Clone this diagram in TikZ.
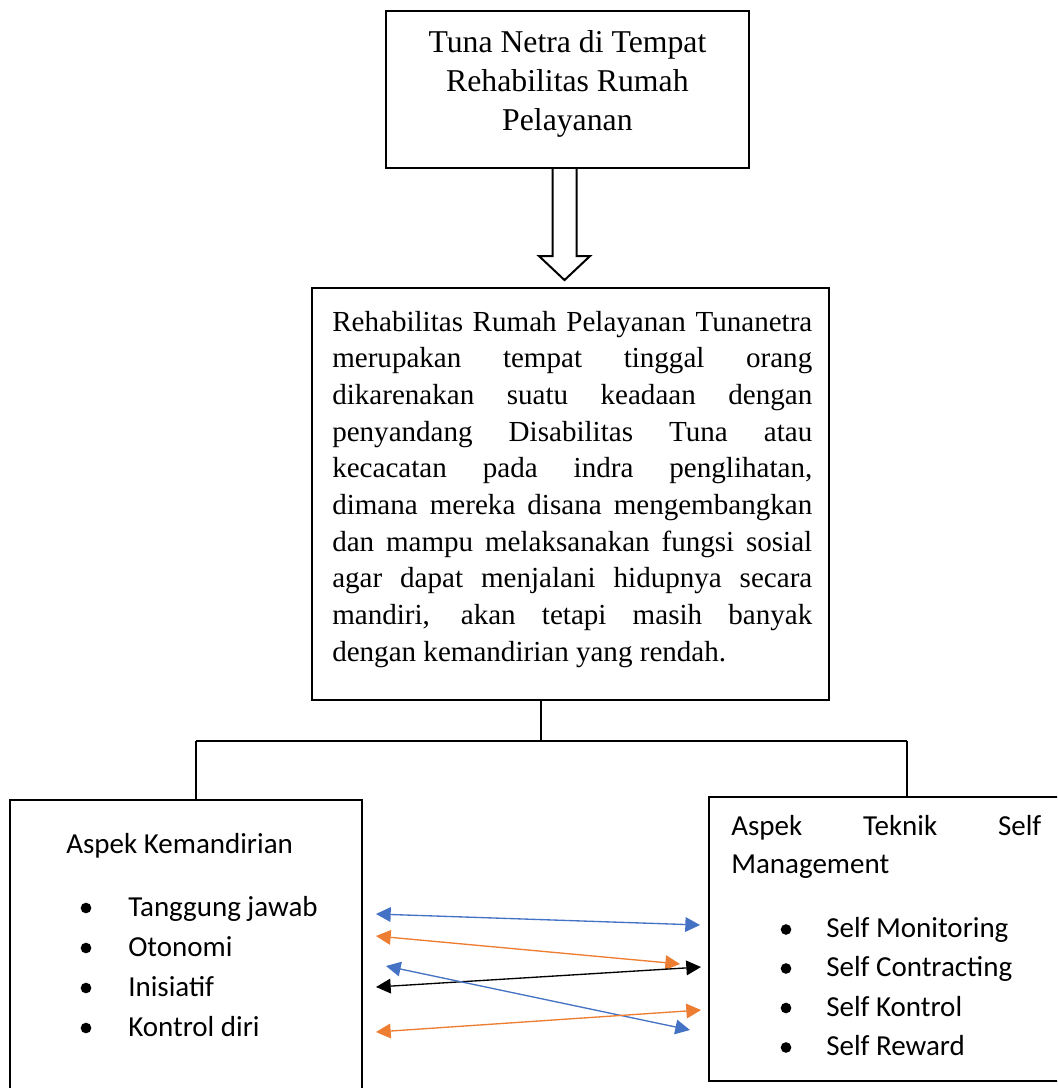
\documentclass[tikz,border=0pt]{standalone}
\usepackage{fontspec}
\setmainfont{Liberation Serif}
\newfontfamily\calibri{Carlito}
\usetikzlibrary{arrows.meta,calc}
\definecolor{wblue}{HTML}{4472C4}
\definecolor{worange}{HTML}{ED7D31}
\tikzset{
  box/.style={draw, line width=1.6pt, inner sep=0pt},
  link/.style={line width=0.8pt},
  rel/.style={line width=1pt, {Triangle[length=11pt,width=11pt]}-{Triangle[length=11pt,width=11pt]}},
  item/.style={anchor=base west, inner sep=0pt, font=\calibri\fontsize{21.75}{26}\selectfont},
  dot/.style={circle, fill, draw=none, inner sep=0pt, minimum size=8pt},
}
\newcommand\jl[1]{{\spaceskip=0pt\xspaceskip=0pt\makebox[360pt][s]{#1}}}
\begin{document}
\begin{tikzpicture}[x=0.75pt,y=-0.75pt]
\useasboundingbox (0,0) rectangle (1057,1088);
\clip (0,0) rectangle (1057,1088);

% boxes
\node[box, minimum width=272.25pt, minimum height=117.75pt] (top) at (567.5,89.5) {};
\node[box, minimum width=387.75pt, minimum height=309pt] (mid) at (570.5,494) {};
\node[box, minimum width=264pt, minimum height=225pt] (left) at (186,950) {};
\node[box, minimum width=266.25pt, minimum height=213pt] (right) at (886.5,939) {};

% top text
\node[anchor=north, inner sep=0pt, align=center, font=\fontsize{23.8}{29.25}\selectfont] (toptext) at (567.4,25.33)
  {\rule{0pt}{20pt}Tuna Netra di Tempat\\Rehabilitas Rumah\\Pelayanan};

% middle text
\node[anchor=north west, inner sep=0pt, text width=360pt, align=left, font=\fontsize{21.8}{27.5}\selectfont] (body) at (332,304.33)
  {\rule{0pt}{20pt}\jl{Rehabilitas Rumah Pelayanan Tunanetra}\\
   \jl{merupakan tempat tinggal orang}\\
   \jl{dikarenakan suatu keadaan dengan}\\
   \jl{penyandang Disabilitas Tuna atau}\\
   \jl{kecacatan pada indra penglihatan,}\\
   \jl{dimana mereka disana mengembangkan}\\
   \jl{dan mampu melaksanakan fungsi sosial}\\
   \jl{agar dapat menjalani hidupnya secara}\\
   \jl{mandiri, akan tetapi masih banyak}\\
   {\spaceskip=0pt\xspaceskip=0pt dengan kemandirian yang rendah.}};

% hollow block arrow
\coordinate (arrtop) at ($(top.south)+(-3,0)$);
\draw[line width=1.5pt, line join=miter]
  ($(arrtop)+(-12,0)$) -- ++(0,87) -- ++(-13.5,0) -- ($(arrtop)+(0,111)$)
  -- ($(arrtop)+(25.5,87)$) -- ++(-13.5,0) -- ($(arrtop)+(12,0)$);

% tree connectors
\coordinate (hub) at (541,741);
\coordinate (hl) at (196,741);
\coordinate (hr) at (907,741);
\draw[link] (hub |- mid.south) -- (hub);
\draw[link] (hl) -- (hr);
\draw[link] (hl) -- (hl |- left.north);
\draw[link] (hr) -- (hr |- right.north);

% left box text
\node[item] (lt) at (66,853) {Aspek Kemandirian};
\node[dot] (lb1) at (86,908) {};
\node[dot] (lb2) at (86,948) {};
\node[dot] (lb3) at (86,988) {};
\node[dot] (lb4) at (86,1028) {};
\node[item] (l1) at (128,916) {Tanggung jawab};
\node[item] (l2) at (128,956) {Otonomi};
\node[item] (l3) at (128,996) {Inisiatif};
\node[item] (l4) at (128,1036) {Kontrol diri};

% right box text
\node[item] (rt) at (731,835) {\makebox[232.5pt][s]{Aspek Teknik Self}};
\node[item] (rt2) at (731,873) {Management};
\node[dot] (rb1) at (786,929.5) {};
\node[dot] (rb2) at (786,968.5) {};
\node[dot] (rb3) at (786,1008) {};
\node[dot] (rb4) at (786,1047.5) {};
\node[item] (r1) at (826,937.5) {Self Monitoring};
\node[item] (r2) at (826,976.5) {Self Contracting};
\node[item] (r3) at (826,1016) {Self Kontrol};
\node[item] (r4) at (826,1055.5) {Self Reward};

% relation arrows
\coordinate (a1l) at (376,914);  \coordinate (a1r) at (700,925);
\coordinate (a2l) at (376,936);  \coordinate (a2r) at (680,964);
\coordinate (a3l) at (376,987);  \coordinate (a3r) at (701,967);
\coordinate (a4l) at (386,966);  \coordinate (a4r) at (690,1030);
\coordinate (a5l) at (376,1032); \coordinate (a5r) at (701,1010);
\draw[rel, wblue] (a1l) -- (a1r);
\draw[rel, worange] (a2l) -- (a2r);
\draw[rel, black] (a3l) -- (a3r);
\draw[rel, wblue] (a4l) -- (a4r);
\draw[rel, worange] (a5l) -- (a5r);
\end{tikzpicture}
\end{document}
